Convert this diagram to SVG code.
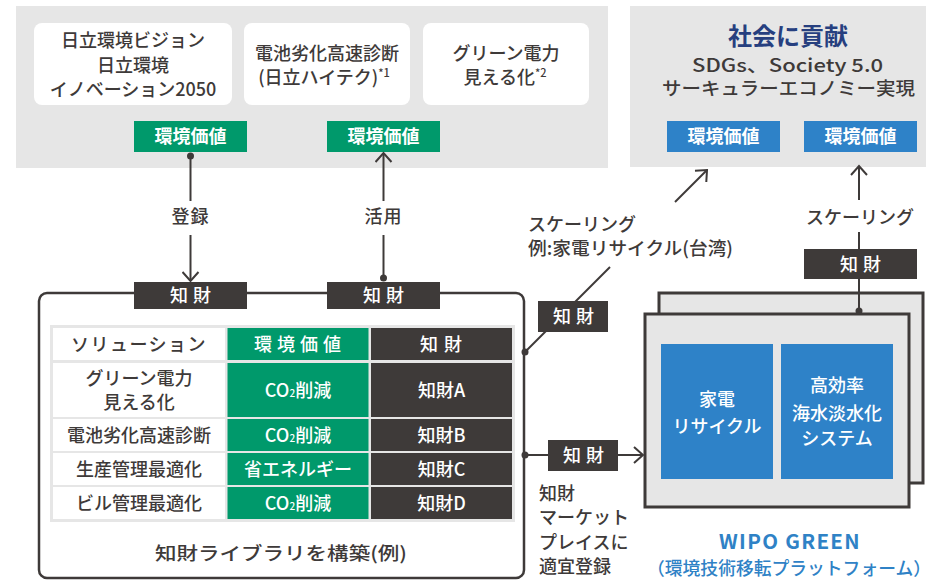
<svg xmlns="http://www.w3.org/2000/svg" width="935" height="580" viewBox="0 0 935 580">
<defs>
<style>
text{font-family:"Noto Sans CJK JP","Noto Sans",sans-serif;}
.g{fill:#3e3a39;font-size:18px;font-weight:500;}
.w{fill:#fff;font-size:18px;font-weight:500;}
.wb{fill:#fff;font-size:18px;font-weight:700;}
.panel{fill:#e6e6e6;}
.card{fill:#fff;}
.green{fill:#00996b;}
.dark{fill:#3e3a39;}
.blue{fill:#2e82c8;}
.ln{stroke:#3e3a39;stroke-width:2;fill:none;}
</style>
<marker id="ah" viewBox="-12 -9 14 18" refX="0" refY="0" markerWidth="14" markerHeight="18" markerUnits="userSpaceOnUse" orient="auto">
<path d="M-9,-8 L0,0 L-9,8" fill="none" stroke="#3e3a39" stroke-width="2"/>
</marker>
</defs>
<rect width="935" height="580" fill="#fff"/>

<g id="panel-hitachi">
<rect class="panel" x="16" y="6" width="592" height="162"/>
</g>
<g id="node-vision">
<rect class="card" x="34" y="23" width="198" height="82" rx="8"/>
<text class="g" text-anchor="middle"><tspan x="133" y="47">日立環境ビジョン</tspan><tspan x="133" y="72">日立環境</tspan><tspan x="133" y="96">イノベーション2050</tspan></text>
</g>
<g id="node-battery">
<rect class="card" x="244" y="23" width="166" height="82" rx="8"/>
<text class="g" text-anchor="middle"><tspan x="327" y="60">電池劣化高速診断</tspan><tspan x="324" y="84">(日立ハイテク)</tspan><tspan font-size="11" dy="-7">*1</tspan></text>
</g>
<g id="node-green-power">
<rect class="card" x="423" y="23" width="166" height="82" rx="8"/>
<text class="g" text-anchor="middle"><tspan x="506" y="60">グリーン電力</tspan><tspan x="505" y="84">見える化</tspan><tspan font-size="11" dy="-7">*2</tspan></text>
</g>
<g id="node-value1">
<rect class="green" x="134" y="121" width="113" height="31"/>
<text class="wb" x="190.5" y="143" text-anchor="middle">環境価値</text>
</g>
<g id="node-value2">
<rect class="green" x="327" y="121" width="113" height="31"/>
<text class="wb" x="383.5" y="143" text-anchor="middle">環境価値</text>
</g>

<g id="panel-society">
<rect class="panel" x="630" y="6" width="296" height="161"/>
<text x="788" y="45" text-anchor="middle" font-size="24" font-weight="700" fill="#263f7f">社会に貢献</text>
<text class="g" x="787.5" y="71.5" text-anchor="middle" font-weight="600" textLength="191" lengthAdjust="spacingAndGlyphs">SDGs、Society 5.0</text>
<text class="g" x="788.5" y="95" text-anchor="middle" textLength="253" lengthAdjust="spacingAndGlyphs">サーキュラーエコノミー実現</text>
</g>
<g id="node-value3">
<rect class="blue" x="667" y="121" width="113" height="31"/>
<text class="wb" x="723.5" y="143" text-anchor="middle">環境価値</text>
</g>
<g id="node-value4">
<rect class="blue" x="804" y="121" width="113" height="31"/>
<text class="wb" x="860.5" y="143" text-anchor="middle">環境価値</text>
</g>

<g id="node-library">
<rect x="39" y="293" width="485" height="285" rx="8" fill="#fff" stroke="#3e3a39" stroke-width="2.5"/>
<rect x="50" y="325" width="465" height="197" fill="#e6e6e6"/>
<rect class="card" x="53" y="328" width="172" height="32"/>
<rect class="card" x="53" y="363" width="172" height="54"/>
<rect class="card" x="53" y="419" width="172" height="32"/>
<rect class="card" x="53" y="453" width="172" height="32"/>
<rect class="card" x="53" y="487" width="172" height="32"/>
<rect class="green" x="227.5" y="328" width="141" height="32"/>
<rect class="green" x="227.5" y="363" width="141" height="54"/>
<rect class="green" x="227.5" y="419" width="141" height="32"/>
<rect class="green" x="227.5" y="453" width="141" height="32"/>
<rect class="green" x="227.5" y="487" width="141" height="32"/>
<rect class="dark" x="371" y="328" width="141" height="32"/>
<rect class="dark" x="371" y="363" width="141" height="54"/>
<rect class="dark" x="371" y="419" width="141" height="32"/>
<rect class="dark" x="371" y="453" width="141" height="32"/>
<rect class="dark" x="371" y="487" width="141" height="32"/>
<text class="g" x="139" y="351" text-anchor="middle" letter-spacing="1.5">ソリューション</text>
<text class="g" text-anchor="middle"><tspan x="139" y="385">グリーン電力</tspan><tspan x="139" y="409">見える化</tspan></text>
<text class="g" x="139" y="442" text-anchor="middle" font-size="18.5">電池劣化高速診断</text>
<text class="g" x="139" y="476" text-anchor="middle" font-size="18.5">生産管理最適化</text>
<text class="g" x="139" y="510" text-anchor="middle" font-size="18.5">ビル管理最適化</text>
<text class="w" x="300" y="351" text-anchor="middle" letter-spacing="5">環境価値</text>
<text class="w" x="298" y="397" text-anchor="middle" font-size="19.5">CO<tspan font-size="10">2</tspan>削減</text>
<text class="w" x="298" y="442" text-anchor="middle" font-size="19.5">CO<tspan font-size="10">2</tspan>削減</text>
<text class="w" x="298" y="476" text-anchor="middle" font-size="18.5">省エネルギー</text>
<text class="w" x="298" y="510" text-anchor="middle" font-size="19.5">CO<tspan font-size="10">2</tspan>削減</text>
<text class="w" x="444" y="351" text-anchor="middle" letter-spacing="6">知財</text>
<text class="w" x="441.5" y="397" text-anchor="middle" font-size="18.5">知財A</text>
<text class="w" x="441.5" y="442" text-anchor="middle" font-size="18.5">知財B</text>
<text class="w" x="441.5" y="476" text-anchor="middle" font-size="18.5">知財C</text>
<text class="w" x="441.5" y="510" text-anchor="middle" font-size="18.5">知財D</text>
<text class="g" x="281" y="560" text-anchor="middle" font-size="19" textLength="252" lengthAdjust="spacingAndGlyphs">知財ライブラリを構築(例)</text>
</g>

<g id="node-wipo">
<rect x="659" y="293" width="264" height="190" fill="#e6e6e6" stroke="#3e3a39" stroke-width="3"/>
<rect x="645" y="314" width="264" height="193" fill="#e6e6e6" stroke="#3e3a39" stroke-width="3"/>
<rect class="blue" x="661" y="344" width="112" height="135"/>
<rect class="blue" x="781" y="344" width="112" height="135"/>
<text class="w" text-anchor="middle"><tspan x="717" y="406">家電</tspan><tspan x="717" y="433">リサイクル</tspan></text>
<text class="w" text-anchor="middle"><tspan x="837" y="392">高効率</tspan><tspan x="837" y="420">海水淡水化</tspan><tspan x="837" y="445">システム</tspan></text>
<text text-anchor="middle" fill="#2f82c6"><tspan x="790" y="549" font-size="20.5" font-weight="700" letter-spacing="1.3">WIPO GREEN</tspan><tspan x="789" y="574.5" font-size="17.8" font-weight="500">（環境技術移転プラットフォーム）</tspan></text>
</g>

<g id="connectors">
<circle cx="190.5" cy="156" r="3.5" fill="#3e3a39"/>
<line class="ln" x1="190.5" y1="156" x2="190.5" y2="201"/>
<line class="ln" x1="190.5" y1="235" x2="190.5" y2="281" marker-end="url(#ah)"/>
<circle cx="383.5" cy="278" r="3.5" fill="#3e3a39"/>
<line class="ln" x1="383.5" y1="278" x2="383.5" y2="235"/>
<line class="ln" x1="383.5" y1="201" x2="383.5" y2="153" marker-end="url(#ah)"/>
<circle cx="525" cy="352" r="3.5" fill="#3e3a39"/>
<line class="ln" x1="525" y1="352" x2="610" y2="267"/>
<line class="ln" x1="675" y1="202" x2="707" y2="170" marker-end="url(#ah)"/>
<circle cx="525" cy="455" r="3.5" fill="#3e3a39"/>
<line class="ln" x1="525" y1="455" x2="643" y2="455" marker-end="url(#ah)"/>
<circle cx="859" cy="311" r="3.5" fill="#3e3a39"/>
<line class="ln" x1="859" y1="311" x2="859" y2="232"/>
<line class="ln" x1="859" y1="200" x2="859" y2="166" marker-end="url(#ah)"/>
<text class="g" x="190.5" y="223" text-anchor="middle" letter-spacing="1">登録</text>
<text class="g" x="383.5" y="223" text-anchor="middle" letter-spacing="1">活用</text>
<text class="g"><tspan x="528" y="231">スケーリング</tspan><tspan x="528" y="255" textLength="205" lengthAdjust="spacingAndGlyphs">例:家電リサイクル(台湾)</tspan></text>
<text class="g" x="860" y="224" text-anchor="middle">スケーリング</text>
<text class="g"><tspan x="539" y="500">知財</tspan><tspan x="539" y="524">マーケット</tspan><tspan x="539" y="549">プレイスに</tspan><tspan x="539" y="573">適宜登録</tspan></text>
</g>

<g id="label-ip1">
<rect class="dark" x="134" y="282" width="113" height="27"/>
<text class="w" x="193" y="302" text-anchor="middle" letter-spacing="5">知財</text>
</g>
<g id="label-ip2">
<rect class="dark" x="327" y="282" width="113" height="27"/>
<text class="w" x="386" y="302" text-anchor="middle" letter-spacing="5">知財</text>
</g>
<g id="label-ip3">
<rect class="dark" x="538" y="301" width="70" height="31"/>
<text class="w" x="576" y="323" text-anchor="middle" letter-spacing="5">知財</text>
</g>
<g id="label-ip4">
<rect class="dark" x="548" y="440" width="70" height="31"/>
<text class="w" x="586" y="462" text-anchor="middle" letter-spacing="5">知財</text>
</g>
<g id="label-ip5">
<rect class="dark" x="804" y="249" width="113" height="30"/>
<text class="w" x="863" y="271" text-anchor="middle" letter-spacing="5">知財</text>
</g>
</svg>
